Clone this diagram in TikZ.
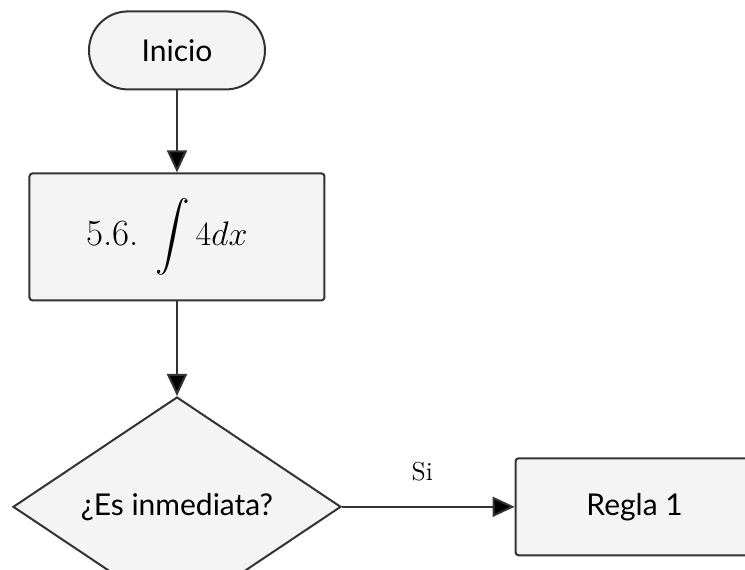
\RequirePackage{fix-cm}
\documentclass[tikz,border=0pt]{standalone}
\usepackage{amsmath}
\usepackage{exscale}
\usepackage{fontspec}
\newfontfamily\flowfont{Lato}
\usetikzlibrary{matrix,arrows.meta,shapes.geometric}

\definecolor{linegray}{HTML}{333333}
\definecolor{boxgray}{HTML}{F4F4F4}

\tikzset{
	shape base/.style={draw=linegray, fill=boxgray, line width=1pt, inner sep=0pt,
		font=\flowfont\fontsize{15}{18}\selectfont},
	startbox/.style={shape base, rectangle, rounded corners=19.5pt,
		minimum width=88pt, minimum height=39pt},
	stepbox/.style={shape base, rectangle, rounded corners=1.5pt,
		minimum width=147.5pt, minimum height=63.5pt},
	decision/.style={shape base, diamond, minimum width=164pt, minimum height=87pt},
	flow/.style={draw=linegray, line width=1pt, -{Triangle[length=11pt,width=10pt]}}
}

\begin{document}
\begin{tikzpicture}[x=0.5pt,y=-0.5pt]
	\useasboundingbox (0,0) rectangle (745,569);
	\matrix (m) [matrix of nodes, inner sep=0pt, nodes={anchor=center},
		column sep=86.5pt, anchor=north west] at (12,10)
	{
		|[startbox]| Inicio & \\[41pt]
		|[stepbox, font=\rmfamily]| \fontsize{17}{20}\selectfont {\fontsize{18.5}{21}\selectfont 5.6.}\hspace{0.5em}$\displaystyle\int 4dx$\hspace{0.6em} & \\[47.5pt]
		|[decision]| ¿Es inmediata? &
		|[stepbox, minimum width=119pt, minimum height=48.5pt]| Regla 1 \\
	};
	\path[flow]
	(m-1-1) edge (m-2-1)
	(m-2-1) edge (m-3-1)
	(m-3-1) edge node[midway, xshift=-3pt, yshift=13pt, anchor=base, inner sep=0pt,
		font=\fontsize{13}{15}\selectfont]{Si} (m-3-2);
\end{tikzpicture}
\end{document}
